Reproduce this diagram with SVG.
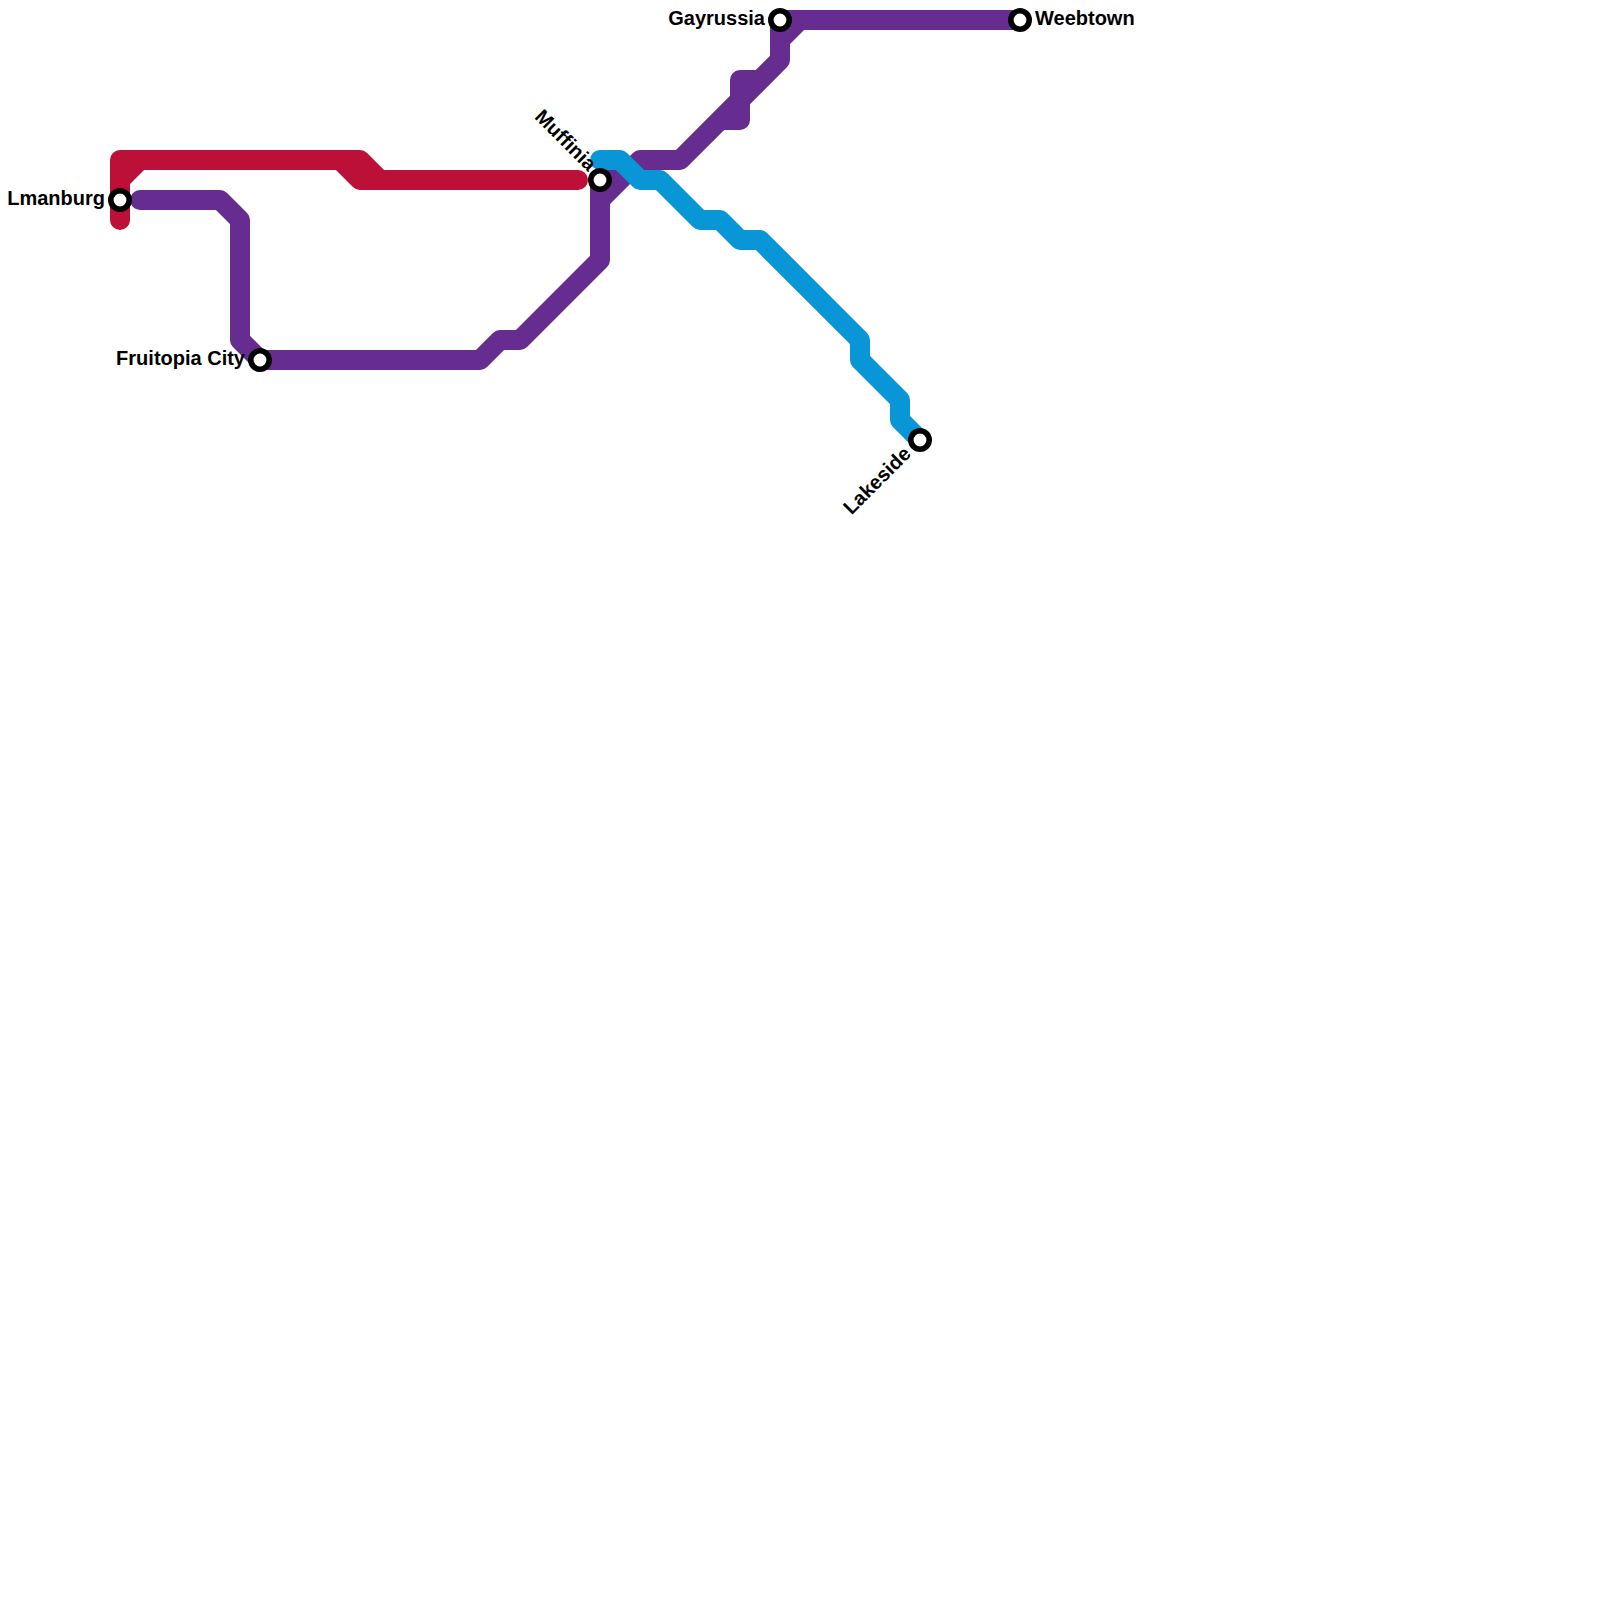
<svg xmlns="http://www.w3.org/2000/svg" width="1600" height="1600" viewBox="0 0 1600 1600">
<style>
.line{fill:none;stroke-width:20;stroke-linecap:round;stroke-linejoin:round}
.red{stroke:#bd1038}
.purple{stroke:#662c90}
.blue{stroke:#0896d7}
.st{fill:#fff;stroke:#000;stroke-width:5.6}
text{font-family:"Liberation Sans",Arial,sans-serif;font-weight:700;font-size:20px;fill:#000}
</style>
<rect width="1600" height="1600" fill="#fff"/>
<g id="connectors">
<path class="line red" d="M120 220V160H360L380 180H578M120 180L140 160M340 160L360 180H380"/>
<path class="line purple" d="M140 200H220L240 220V340L260 360H480L500 340H520L600 260V180H620M600 200L640 160H680L780 60V20H1020M780 40L800 20M720 120H740V80H760"/>
<path class="line blue" d="M600 160H620L640 180H660L700 220H720L740 240H760L860 340V360L900 400V420L920 440"/>
</g>
<g id="lmanburg"><circle class="st" cx="120" cy="200" r="9.2"/><text x="105" y="205" text-anchor="end">Lmanburg</text></g>
<g id="fruitopia-city"><circle class="st" cx="260" cy="360" r="9.2"/><text x="245" y="365" text-anchor="end">Fruitopia City</text></g>
<g id="muffinia"><circle class="st" cx="600" cy="180" r="9.2"/><text transform="translate(588 172) rotate(45)" text-anchor="end">Muffinia</text></g>
<g id="gayrussia"><circle class="st" cx="780" cy="20" r="9.2"/><text x="765" y="25" text-anchor="end">Gayrussia</text></g>
<g id="weebtown"><circle class="st" cx="1020" cy="20" r="9.2"/><text x="1035" y="25">Weebtown</text></g>
<g id="lakeside"><circle class="st" cx="920" cy="440" r="9.2"/><text transform="translate(912 455) rotate(-45)" text-anchor="end">Lakeside</text></g>
</svg>
